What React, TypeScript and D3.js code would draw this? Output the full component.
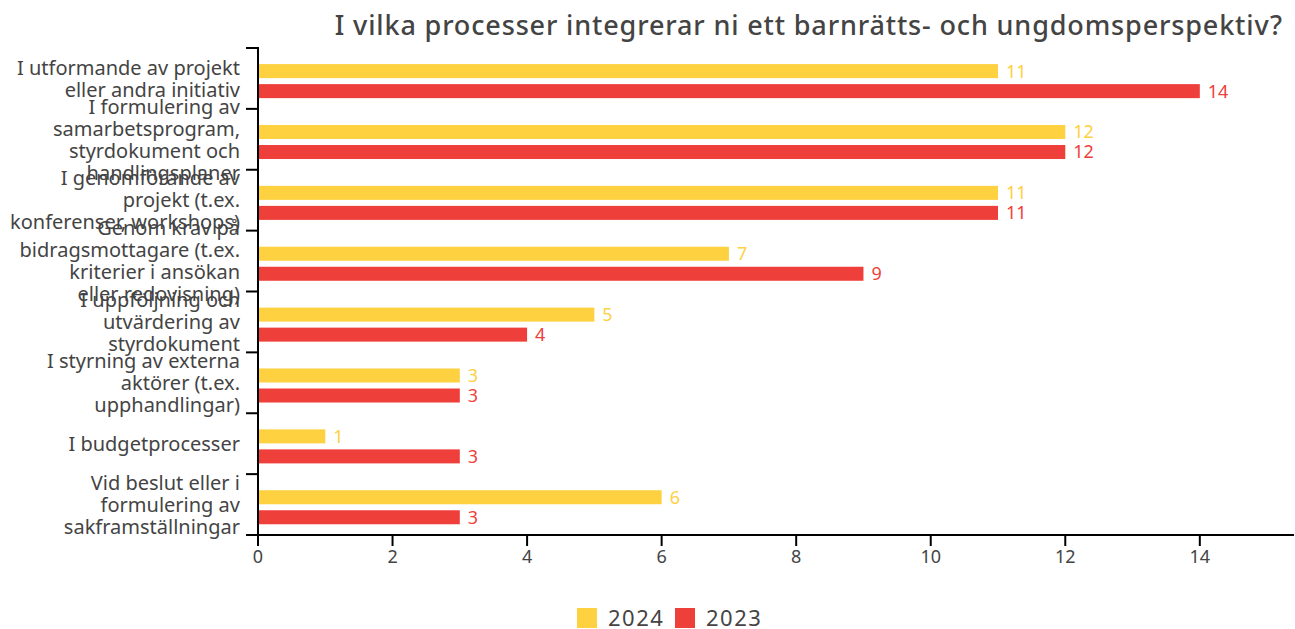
import { useEffect, useRef } from "react";
import * as d3 from "d3";

const title = "I vilka processer integrerar ni ett barnrätts- och ungdomsperspektiv?";

const categories = [
  ["I utformande av projekt", "eller andra initiativ"],
  ["I formulering av", "samarbetsprogram,", "styrdokument och", "handlingsplaner"],
  ["I genomförande av", "projekt (t.ex.", "konferenser, workshops)"],
  ["Genom krav på", "bidragsmottagare (t.ex.", "kriterier i ansökan", "eller redovisning)"],
  ["I uppföljning och", "utvärdering av", "styrdokument"],
  ["I styrning av externa", "aktörer (t.ex.", "upphandlingar)"],
  ["I budgetprocesser"],
  ["Vid beslut eller i", "formulering av", "sakframställningar"],
];

const seriesNames = ["2024", "2023"];
const values2024 = [11, 12, 11, 7, 5, 3, 1, 6];
const values2023 = [14, 12, 11, 9, 4, 3, 3, 3];
const xTicks = [0, 2, 4, 6, 8, 10, 12, 14];

const colors = ["#fdd13f", "#ef3f3b"];
const FONT = "'Noto Sans', 'Open Sans', sans-serif";

export default function App() {
  const svgRef = useRef<SVGSVGElement | null>(null);

  useEffect(() => {
    if (!svgRef.current) return;
    const width = 1295;
    const height = 629;
    const margin = { top: 48, right: 1, bottom: 94, left: 258 };

    const svg = d3.select(svgRef.current);
    svg.selectAll("*").remove();
    svg.attr("width", width).attr("height", height);

    svg.append("text")
      .attr("x", 1283)
      .attr("y", 35)
      .attr("text-anchor", "end")
      .attr("font-family", FONT)
      .attr("font-size", 27)
      .attr("font-weight", 500)
      .attr("letter-spacing", 0.85)
      .attr("fill", "#444")
      .text(title);

    const idx = categories.map((_, i) => String(i));
    const y = d3.scaleBand().domain(idx).range([margin.top, height - margin.bottom]);
    const inner = d3.scaleBand().domain(seriesNames).range([0, y.bandwidth()])
      .paddingInner(0.3).paddingOuter(0.67).align(0.6);
    const x = d3.scaleLinear().domain([0, 15.4]).range([margin.left, width - margin.right]);

    const data = [values2024, values2023];

    const g = svg.append("g");
    seriesNames.forEach((name, s) => {
      const vals = data[s];
      g.selectAll(`rect.s${s}`)
        .data(vals)
        .join("rect")
        .attr("class", `s${s}`)
        .attr("x", x(0))
        .attr("y", (_, i) => (y(String(i)) as number) + (inner(name) as number))
        .attr("width", d => x(d) - x(0))
        .attr("height", inner.bandwidth())
        .attr("fill", colors[s]);

      g.selectAll(`text.s${s}`)
        .data(vals)
        .join("text")
        .attr("class", `s${s}`)
        .attr("x", d => x(d) + 8)
        .attr("y", (_, i) => (y(String(i)) as number) + (inner(name) as number) + inner.bandwidth() / 2)
        .attr("dy", "0.36em")
        .attr("font-family", FONT)
        .attr("font-size", 18)
        .attr("fill", colors[s])
        .text(d => d);
    });

    // y axis
    const yAxis = svg.append("g");
    yAxis.append("line")
      .attr("x1", margin.left).attr("x2", margin.left)
      .attr("y1", margin.top - 1).attr("y2", height - margin.bottom)
      .attr("stroke", "#000").attr("stroke-width", 2);
    const bounds = idx.map(k => y(k) as number).concat([height - margin.bottom]);
    yAxis.selectAll("line.tick")
      .data(bounds)
      .join("line")
      .attr("class", "tick")
      .attr("x1", margin.left - 12).attr("x2", margin.left)
      .attr("y1", d => d).attr("y2", d => d)
      .attr("stroke", "#000").attr("stroke-width", 2);

    const lineH = 22;
    categories.forEach((lines, i) => {
      const cy = (y(String(i)) as number) + y.bandwidth() / 2;
      const t = yAxis.append("text")
        .attr("text-anchor", "end")
        .attr("font-family", FONT)
        .attr("font-size", 20)
        .attr("fill", "#444");
      lines.forEach((ln, j) => {
        t.append("tspan")
          .attr("x", 240)
          .attr("y", cy + (j - (lines.length - 1) / 2) * lineH)
          .attr("dy", "0.36em")
          .text(ln);
      });
    });

    // x axis
    const xAxis = svg.append("g");
    const base = height - margin.bottom;
    xAxis.append("line")
      .attr("x1", margin.left).attr("x2", width - margin.right)
      .attr("y1", base).attr("y2", base)
      .attr("stroke", "#000").attr("stroke-width", 2);
    xAxis.selectAll("line.tick")
      .data(xTicks)
      .join("line")
      .attr("class", "tick")
      .attr("x1", d => x(d)).attr("x2", d => x(d))
      .attr("y1", base).attr("y2", base + 11)
      .attr("stroke", "#000").attr("stroke-width", 2);
    xAxis.selectAll("text")
      .data(xTicks)
      .join("text")
      .attr("x", d => x(d))
      .attr("y", base + 22)
      .attr("dy", "0.36em")
      .attr("text-anchor", "middle")
      .attr("font-family", FONT)
      .attr("font-size", 18)
      .attr("fill", "#444")
      .text(d => d);

    // legend
    const legend = svg.append("g");
    const lx = [577, 675];
    seriesNames.forEach((name, s) => {
      legend.append("rect")
        .attr("x", lx[s]).attr("y", 608)
        .attr("width", 20).attr("height", 20)
        .attr("fill", colors[s]);
      legend.append("text")
        .attr("x", lx[s] + 31).attr("y", 618)
        .attr("dy", "0.36em")
        .attr("font-family", FONT)
        .attr("font-size", 22)
        .attr("letter-spacing", 1.5)
        .attr("fill", "#444")
        .text(name);
    });
  }, []);

  return <svg ref={svgRef} style={{ position: "absolute", left: 0, top: 0 }} />;
}
